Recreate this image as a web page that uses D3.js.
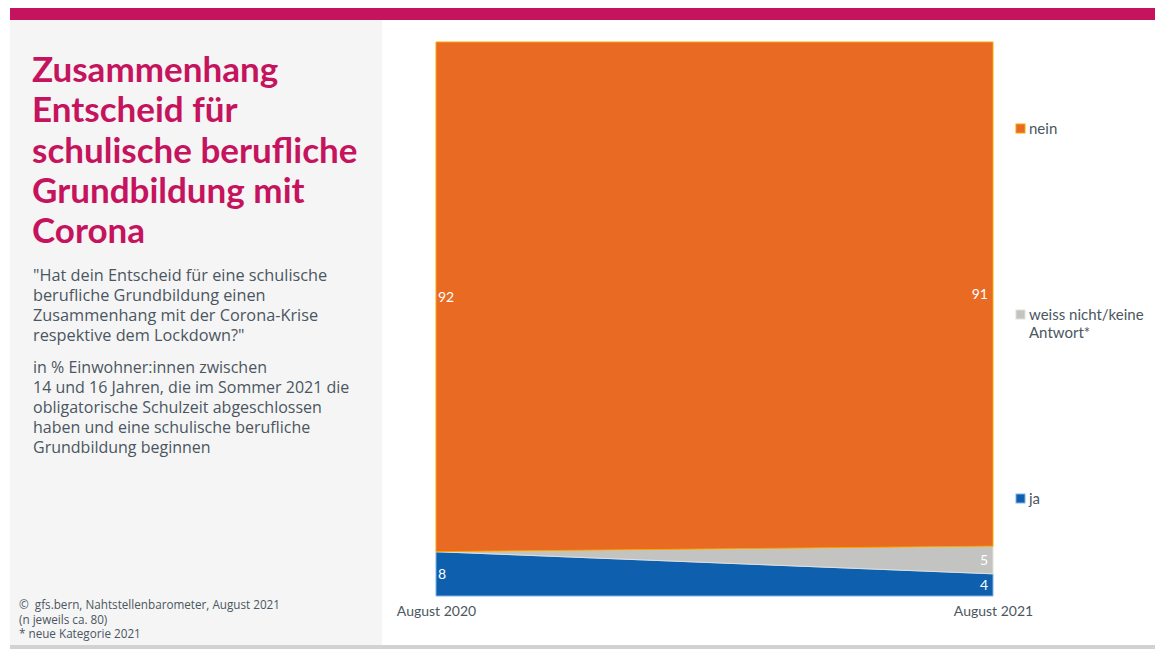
<!DOCTYPE html>
<html><head><meta charset="utf-8">
<script src="https://cdn.jsdelivr.net/npm/d3@7"></script>
<style>html,body{margin:0;padding:0;background:#fff;}svg{display:block;}text{white-space:pre;}</style>
</head><body>
<script>
const periods = ["August 2020", "August 2021"];
const seriesKeys = ["ja", "weiss", "nein"];
const jaValues = [8, 4];
const weissValues = [0, 5];
const neinValues = [92, 91];
const legendLabels = {nein: ["nein"], weiss: ["weiss nicht/keine", "Antwort*"], ja: ["ja"]};
const titleLines = ["Zusammenhang", "Entscheid für", "schulische berufliche", "Grundbildung mit", "Corona"];
const questionLines = ["\"Hat dein Entscheid für eine schulische", "berufliche Grundbildung einen", "Zusammenhang mit der Corona-Krise", "respektive dem Lockdown?\""];
const baseLines = ["in % Einwohner:innen zwischen", "14 und 16 Jahren, die im Sommer 2021 die", "obligatorische Schulzeit abgeschlossen", "haben und eine schulische berufliche", "Grundbildung beginnen"];
const footLines = ["©  gfs.bern, Nahtstellenbarometer, August 2021", "(n jeweils ca. 80)", "* neue Kategorie 2021"];

const colors = {ja: "#0e5fad", weiss: "#c3c3c1", nein: "#e86a23"};
const strokes = {ja: "#7fb3e6", weiss: "#e0e0da", nein: "#f5a800"};
const font = "Lato, 'Fira Sans', 'Open Sans', sans-serif";
const bodyFont = "'Open Sans', 'Fira Sans', sans-serif";
const textCol = "#4b5661";

const W = 1155, H = 649;
const svg = d3.select("body").append("svg").attr("width", W).attr("height", H);

// frame
svg.append("rect").attr("x", 10).attr("y", 8).attr("width", W - 10).attr("height", 12).attr("fill", "#c5135e");
svg.append("rect").attr("x", 10).attr("y", 20).attr("width", 372).attr("height", 625).attr("fill", "#f5f5f5");
svg.append("rect").attr("x", 10).attr("y", 645).attr("width", W - 10).attr("height", 4).attr("fill", "#d2d2d2");

// left text
const tg = svg.append("g");
titleLines.forEach((t, i) => tg.append("text").attr("x", 32).attr("y", 82 + i * 40.3)
  .attr("font-family", font).attr("font-weight", 700).attr("font-size", 35).attr("fill", "#c5135e").text(t));
questionLines.forEach((t, i) => tg.append("text").attr("x", 33).attr("y", 281 + i * 20)
  .attr("font-family", bodyFont).attr("font-size", 16.3).attr("fill", textCol).text(t));
baseLines.forEach((t, i) => tg.append("text").attr("x", 33).attr("y", 373 + i * 20)
  .attr("font-family", bodyFont).attr("font-size", 16).attr("fill", textCol).text(t));
footLines.forEach((t, i) => tg.append("text").attr("x", 19).attr("y", 609 + i * 14.5)
  .attr("font-family", bodyFont).attr("font-size", 11.7).attr("fill", textCol).text(t));

// chart
const data = periods.map((p, i) => ({period: p, ja: jaValues[i], weiss: weissValues[i], nein: neinValues[i]}));
const x = d3.scalePoint().domain(periods).range([436, 993]);
const y = d3.scaleLinear().domain([0, 100]).range([596, 42]);
const stack = d3.stack().keys(seriesKeys);
const layers = stack(data);
const area = d3.area().x(d => x(d.data.period)).y0(d => y(d[0])).y1(d => y(d[1]));

svg.append("g").selectAll("path").data(layers).join("path")
  .attr("d", area).attr("fill", d => colors[d.key])
  .attr("stroke", d => strokes[d.key]).attr("stroke-width", 1);

// value labels
layers.forEach(layer => {
  layer.forEach((d, i) => {
    const v = d[1] - d[0];
    if (v <= 0) return;
    const first = i === 0;
    svg.append("text")
      .attr("x", first ? x(d.data.period) + 2 : x(d.data.period) - 5)
      .attr("y", y((d[0] + d[1]) / 2) + 5)
      .attr("text-anchor", first ? "start" : "end")
      .attr("font-family", font).attr("font-size", 14).attr("fill", "#fff")
      .text(v);
  });
});

// axis
const axis = d3.axisBottom(x).tickSize(0).tickPadding(0);
const ag = svg.append("g").attr("transform", "translate(0,606)").call(axis);
ag.select(".domain").remove();
ag.selectAll("text").attr("font-family", font).attr("font-size", 14).attr("fill", textCol).attr("dy", "0.71em");

// legend
const legendY = {nein: 129, weiss: 315, ja: 499};
["nein", "weiss", "ja"].forEach(k => {
  const g = svg.append("g");
  g.append("rect").attr("x", 1016).attr("y", legendY[k] - 5).attr("width", 9).attr("height", 9)
    .attr("fill", colors[k]).attr("stroke", strokes[k]).attr("stroke-width", 1);
  legendLabels[k].forEach((t, i) => g.append("text").attr("x", 1029).attr("y", legendY[k] + 5 + i * 18)
    .attr("font-family", font).attr("font-size", 15).attr("fill", textCol).text(t));
});
</script>
</body></html>
